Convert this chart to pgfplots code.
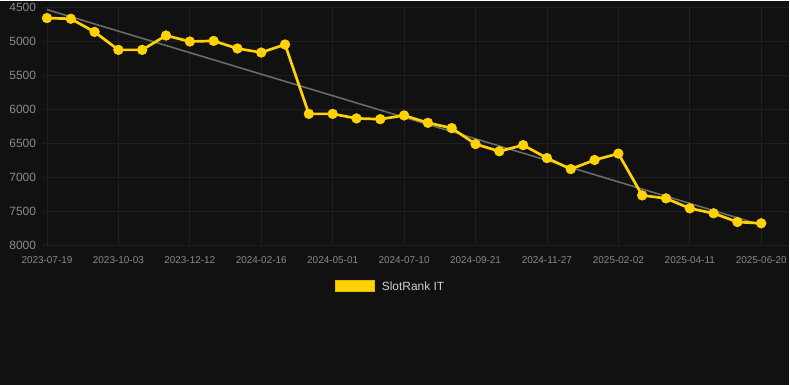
\documentclass[border=0pt]{standalone}
\usepackage{pgfplots}
\pgfplotsset{compat=1.18}
\usepackage{fontspec}
\setmainfont{Liberation Sans}
\definecolor{bg}{HTML}{111111}
\definecolor{gridc}{HTML}{1F1F1F}
\definecolor{tickc}{HTML}{8A8A8A}
\definecolor{legc}{HTML}{D0D0D0}
\definecolor{gold}{HTML}{FFD208}
\definecolor{goldb}{HTML}{E0B800}
\definecolor{trend}{HTML}{6A6A6A}
\begin{document}
\begin{tikzpicture}[x=1bp,y=1bp]
\fill[bg] (0,-384) rectangle (790,0);
\begin{axis}[
  at={(43.5bp,-6.3bp)}, anchor=north west,
  scale only axis, width=746.5bp, height=238bp,
  xmin=-0.147, xmax=31.175,
  ymin=4500, ymax=8000, y dir=reverse,
  axis line style={draw=none},
  tick style={draw=none},
  xtick={0,3,...,30},
  xticklabels={2023-07-19,2023-10-03,2023-12-12,2024-02-16,2024-05-01,2024-07-10,2024-09-21,2024-11-27,2025-02-02,2025-04-11,2025-06-20},
  ytick={4500,5000,...,8000},
  grid=major,
  major grid style={gridc, line width=0.8pt},
  x tick label style={font=\fontsize{10}{12}\selectfont, text=tickc, anchor=center, yshift=-15bp},
  y tick label style={font=\fontsize{12}{14}\selectfont, text=tickc, anchor=east, xshift=-4bp},
  yticklabel style={/pgf/number format/.cd, set thousands separator={}},
  /pgf/number format/assume math mode=true,
  clip=false,
]
\addplot[trend, line width=1.6pt] coordinates {(0,4530) (30,7700)};
\addplot[gold, line width=2.7pt, mark=*, mark size=4.9pt, mark options={fill=gold, draw=gold, line width=0.5pt}] coordinates {
(0,4655) (1,4665) (2,4859) (3,5123) (4,5123) (5,4912) (6,5000) (7,4991) (8,5103) (9,5162) (10,5044)
(11,6065) (12,6065) (13,6132) (14,6143) (15,6088) (16,6197) (17,6275) (18,6510) (19,6616) (20,6525)
(21,6716) (22,6878) (23,6744) (24,6650) (25,7265) (26,7309) (27,7456) (28,7529) (29,7657) (30,7676)
};
\end{axis}
\fill[gold, draw=goldb, line width=0.6pt] (336,-279) rectangle (375,-290);
\node[anchor=west, text=legc, font=\fontsize{12}{14}\selectfont, inner sep=0pt] at (382,-285) {SlotRank IT};
\end{tikzpicture}
\end{document}
